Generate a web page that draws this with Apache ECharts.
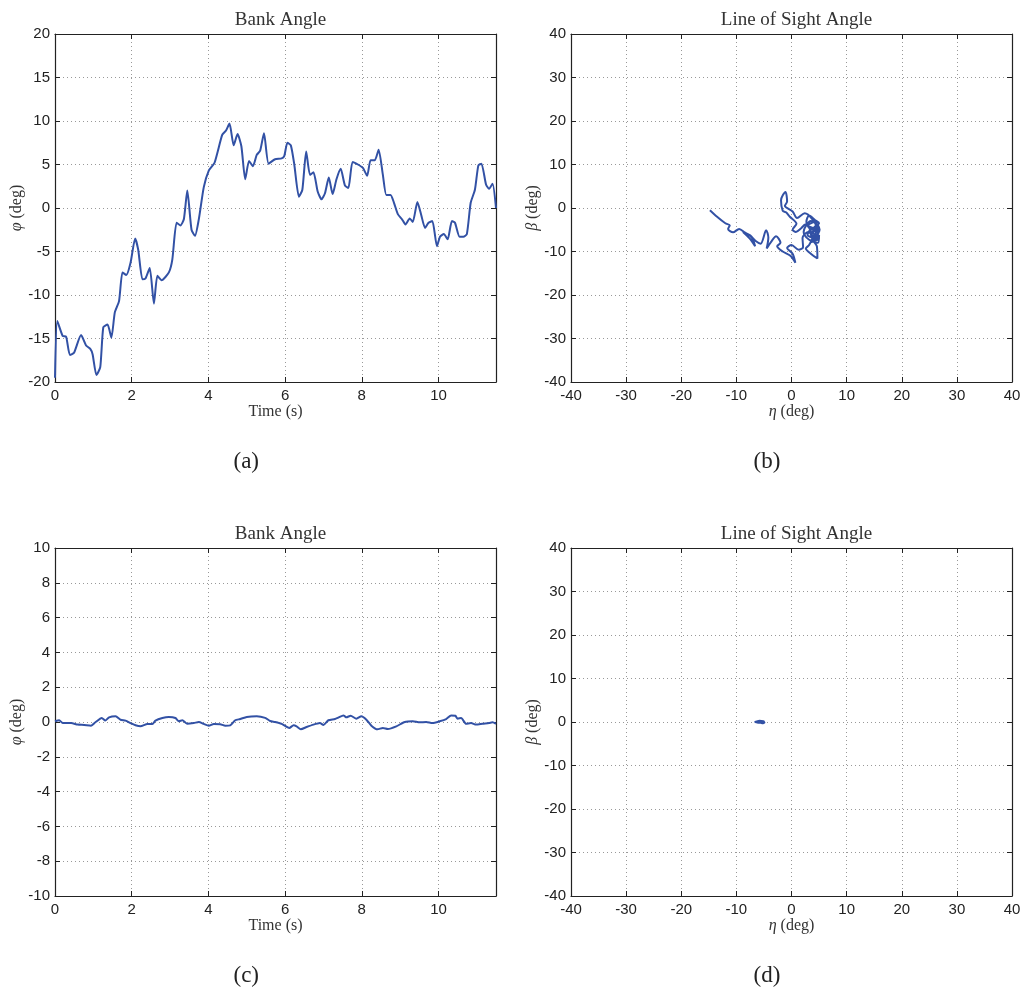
<!DOCTYPE html>
<html>
<head>
<meta charset="utf-8">
<script src="https://cdn.jsdelivr.net/npm/echarts@6/dist/echarts.min.js"></script>
<style>
html,body{margin:0;padding:0;background:#fff;}
#chart{width:1024px;height:991px;}
</style>
</head>
<body>
<div id="chart"></div>
<script>
// ---- data ----
const panelTitles = ['Bank Angle', 'Line of Sight Angle', 'Bank Angle', 'Line of Sight Angle'];
const panelCaptions = ['(a)', '(b)', '(c)', '(d)'];

// (a) bank angle [time s, phi deg]
const bankAngleA = [
 [0,-19.5],[0.06,-13.0],[0.2,-14.7],[0.29,-14.8],[0.39,-16.9],[0.5,-16.6],[0.68,-14.6],[0.81,-15.8],[0.92,-16.2],[0.98,-16.8],
 [1.08,-19.2],[1.18,-18.3],[1.26,-13.7],[1.37,-13.4],[1.47,-14.9],[1.56,-12.0],[1.67,-10.7],[1.76,-7.4],[1.86,-7.7],[1.97,-6.3],
 [2.09,-3.5],[2.17,-4.8],[2.28,-8.2],[2.36,-8.1],[2.47,-6.9],[2.58,-11.0],[2.67,-7.8],[2.78,-8.3],[2.97,-7.4],[3.06,-5.9],
 [3.17,-1.7],[3.27,-2.0],[3.36,-1.3],[3.45,2.0],[3.56,-2.5],[3.65,-3.2],[3.75,-1.3],[3.88,2.4],[4.01,4.3],[4.16,5.2],
 [4.36,8.4],[4.46,8.9],[4.55,9.7],[4.66,7.2],[4.76,8.5],[4.86,7.1],[4.96,3.3],[5.06,5.4],[5.16,4.8],[5.26,6.1],
 [5.35,6.6],[5.45,8.6],[5.57,5.1],[5.74,5.6],[5.91,5.7],[5.98,6.0],[6.06,7.5],[6.15,7.2],[6.24,5.0],[6.36,1.3],
 [6.45,2.1],[6.55,6.5],[6.65,3.8],[6.74,4.1],[6.85,1.9],[6.95,1.0],[7.04,1.7],[7.14,3.5],[7.24,1.6],[7.34,3.3],
 [7.45,4.5],[7.56,2.6],[7.65,2.3],[7.76,5.3],[7.9,5.0],[8.03,4.6],[8.14,3.7],[8.23,5.5],[8.34,5.5],[8.44,6.7],
 [8.55,3.8],[8.64,1.5],[8.75,1.5],[8.84,0.6],[8.94,-0.7],[9.05,-1.3],[9.14,-1.9],[9.25,-1.2],[9.33,-1.6],[9.45,0.7],
 [9.55,-0.8],[9.65,-2.3],[9.74,-1.7],[9.84,-1.5],[9.96,-4.4],[10.04,-3.3],[10.14,-3.0],[10.24,-3.6],[10.35,-1.5],[10.43,-1.7],
 [10.55,-3.3],[10.65,-3.3],[10.74,-3.0],[10.84,0.6],[10.95,2.1],[11.04,4.9],[11.12,5.1],[11.24,2.7],[11.32,2.2],[11.41,2.8],[11.5,0.0]
];

// (b) line of sight [eta deg, beta deg]
const losB = [
 [-14.8,-0.5],[-13.5,-2.0],[-12.0,-3.5],[-11.2,-4.0],[-11.5,-4.8],[-10.6,-5.6],[-9.5,-4.8],[-8.5,-5.6],[-7.2,-6.8],[-6.6,-8.8],
 [-7.6,-7.0],[-8.8,-5.5],[-7.5,-6.3],[-6.5,-7.6],[-5.6,-8.2],[-4.6,-5.1],[-4.2,-6.8],[-4.5,-9.3],[-3.6,-7.6],[-2.8,-6.5],
 [-2.0,-8.0],[-2.6,-8.8],[-1.6,-10.0],[-0.2,-11.0],[0.7,-12.6],[0.2,-10.5],[-0.8,-9.2],[0,-8.5],[1.3,-9.6],[2.1,-9.0],
 [2.0,-6.9],[3.0,-5.5],[3.8,-6.6],[3.2,-8.5],[2.6,-9.3],[3.5,-10.5],[4.7,-11.6],[4.6,-8.8],[4.0,-7.5],[4.8,-6.0],
 [4.2,-4.5],[5.0,-3.5],[4.3,-2.8],[3.2,-1.7],[2.7,-3.2],[3.6,-5.0],[4.5,-4.0],[4.9,-5.8],[3.9,-6.4],[3.2,-4.5],
 [2.5,-3.8],[1.8,-4.6],[0.8,-5.5],[0.2,-5.0],[0.9,-3.6],[-0.3,-2.0],[-1.0,-1.0],[-1.6,-0.6],[-1.9,1.8],[-1.1,3.7],
 [-0.8,1.5],[-1.2,0.5],[0.2,-0.8],[1.0,-2.3],[2.4,-1.2],[3.8,-2.6],[4.6,-4.8],[3.5,-6.0],[4.4,-7.2],[5.0,-6.2],
 [4.8,-8.0],[3.2,-7.3],[2.2,-5.5],[3.5,-3.0],[4.8,-4.2],[3.8,-5.5],[5.0,-7.0],[3.6,-7.8],[4.5,-5.2],[3.0,-4.0],
 [4.2,-3.2],[5.1,-5.0],[4.0,-6.8],[2.9,-6.2],[3.7,-4.4]
];

// (c) bank angle [time s, phi deg]
const bankAngleC = [
 [0,0.04],[0.11,0.1],[0.2,-0.06],[0.42,-0.06],[0.59,-0.15],[0.76,-0.17],[0.94,-0.21],[1.06,0],[1.22,0.23],[1.31,0.08],
 [1.41,0.27],[1.58,0.33],[1.71,0.13],[1.84,0.08],[1.97,-0.06],[2.1,-0.19],[2.23,-0.25],[2.41,-0.11],[2.54,-0.11],[2.62,0.08],
 [2.8,0.23],[2.97,0.29],[3.14,0.23],[3.23,0.04],[3.32,0.1],[3.45,-0.1],[3.62,-0.06],[3.75,0],[3.88,-0.11],[4.01,-0.21],
 [4.14,-0.11],[4.31,-0.13],[4.44,-0.21],[4.57,-0.19],[4.7,0.1],[4.83,0.17],[5.0,0.29],[5.26,0.33],[5.48,0.24],[5.61,0.06],
 [5.74,0],[5.91,-0.11],[6.11,-0.34],[6.22,-0.19],[6.3,-0.25],[6.41,-0.42],[6.56,-0.29],[6.74,-0.15],[6.91,-0.06],[7.0,-0.17],
 [7.13,0.1],[7.3,0.17],[7.4,0.27],[7.52,0.38],[7.6,0.27],[7.71,0.36],[7.86,0.19],[7.99,0.33],[8.12,0.13],[8.25,-0.21],
 [8.41,-0.42],[8.55,-0.34],[8.68,-0.4],[8.9,-0.25],[9.12,0],[9.33,0.04],[9.51,-0.02],[9.68,0],[9.84,-0.06],[10.03,0.04],
 [10.2,0.17],[10.33,0.38],[10.44,0.36],[10.5,0.19],[10.59,0.23],[10.72,-0.1],[10.85,-0.06],[10.98,-0.15],[11.15,-0.1],[11.32,-0.06],
 [11.41,-0.02],[11.5,-0.1]
];

// (d) line of sight [eta deg, beta deg]
const losD = [
 [-6.6,0.1],[-6.0,-0.2],[-5.4,0.1],[-4.9,-0.1],[-5.3,-0.3],[-6.1,0.2],[-6.7,-0.1],[-5.8,0.3],[-5.0,0.1],[-5.6,-0.2],[-6.3,0.0]
];

const timeAxis = {min: 0, max: 11.5, interval: 2};
const phiAxisA = {min: -20, max: 20, interval: 5};
const phiAxisC = {min: -10, max: 10, interval: 2};
const losAxis = {min: -40, max: 40, interval: 10};

// ---- layout ----
const grids = [
  {left: 55, top: 34, width: 441, height: 348},
  {left: 571, top: 34, width: 441, height: 348},
  {left: 55, top: 548, width: 441, height: 348},
  {left: 571, top: 548, width: 441, height: 348}
];
const lineColor = '#3251a5';
const serif = "'Liberation Serif', 'DejaVu Serif', serif";
const sans = "'Liberation Sans', Arial, sans-serif";

const xAxes = [], yAxes = [], series = [], titles = [], graphics = [];
const axisSpecs = [
  {x: timeAxis, y: phiAxisA, xName: 'Time (s)', yName: '{i|φ} (deg)', data: bankAngleA, smooth: 0.2},
  {x: losAxis, y: losAxis, xName: '{i|η} (deg)', yName: '{i|β} (deg)', data: losB, smooth: 0.3},
  {x: timeAxis, y: phiAxisC, xName: 'Time (s)', yName: '{i|φ} (deg)', data: bankAngleC, smooth: 0.2},
  {x: losAxis, y: losAxis, xName: '{i|η} (deg)', yName: '{i|β} (deg)', data: losD, smooth: 0.3}
];
const richName = {i: {fontStyle: 'italic', fontFamily: serif, fontSize: 16, color: '#333'}};

axisSpecs.forEach((s, i) => {
  const g = grids[i];
  xAxes.push({
    type: 'value', gridIndex: i, position: 'bottom',
    min: s.x.min, max: s.x.max, interval: s.x.interval,
    name: s.xName, nameLocation: 'middle', nameGap: 19,
    nameTextStyle: {fontFamily: serif, fontSize: 16, color: '#333', rich: richName},
    axisLine: {show: true, onZero: false, lineStyle: {color: '#222', width: 1.2}},
    axisTick: {show: true, inside: true, length: 5, lineStyle: {color: '#222'}},
    axisLabel: {show: true, margin: 6, fontFamily: sans, fontSize: 15, color: '#222', showMaxLabel: s.x.max % s.x.interval === 0},
    splitLine: {show: true, lineStyle: {type: [1, 3], color: '#999', width: 1}}
  });
  xAxes.push({
    type: 'value', gridIndex: i, position: 'top',
    min: s.x.min, max: s.x.max, interval: s.x.interval,
    axisLine: {show: true, onZero: false, lineStyle: {color: '#222', width: 1.2}},
    axisTick: {show: true, inside: true, length: 5, lineStyle: {color: '#222'}},
    axisLabel: {show: false}, splitLine: {show: false}
  });
  yAxes.push({
    type: 'value', gridIndex: i, position: 'left',
    min: s.y.min, max: s.y.max, interval: s.y.interval,
    name: s.yName, nameLocation: 'middle', nameGap: 29, nameRotate: 90,
    nameTextStyle: {fontFamily: serif, fontSize: 16, color: '#333', rich: richName},
    axisLine: {show: true, onZero: false, lineStyle: {color: '#222', width: 1.2}},
    axisTick: {show: true, inside: true, length: 5, lineStyle: {color: '#222'}},
    axisLabel: {show: true, margin: 5, fontFamily: sans, fontSize: 15, color: '#222'},
    splitLine: {show: true, lineStyle: {type: [1, 3], color: '#999', width: 1}}
  });
  yAxes.push({
    type: 'value', gridIndex: i, position: 'right',
    min: s.y.min, max: s.y.max, interval: s.y.interval,
    axisLine: {show: true, onZero: false, lineStyle: {color: '#222', width: 1.2}},
    axisTick: {show: true, inside: true, length: 5, lineStyle: {color: '#222'}},
    axisLabel: {show: false}, splitLine: {show: false}
  });
  series.push({
    type: 'line', xAxisIndex: 2 * i, yAxisIndex: 2 * i,
    data: s.data, showSymbol: false, smooth: s.smooth,
    lineStyle: {color: lineColor, width: 2}, animation: false, clip: true
  });
  titles.push({
    text: panelTitles[i], left: g.left + g.width / 2, top: g.top - 28, textAlign: 'center',
    textStyle: {fontFamily: serif, fontSize: 19, fontWeight: 'normal', color: '#333'}
  });
  graphics.push({
    type: 'text', left: g.left + g.width / 2 - (i % 2 ? 38 : 42), top: g.top + 416,
    style: {text: panelCaptions[i], font: "23px 'Liberation Serif', serif", fill: '#222'}
  });
});

const chart = echarts.init(document.getElementById('chart'), null, {renderer: 'canvas'});
chart.setOption({
  backgroundColor: '#fff',
  animation: false,
  title: titles,
  grid: grids,
  xAxis: xAxes,
  yAxis: yAxes,
  series: series,
  graphic: graphics
});
</script>
</body>
</html>
